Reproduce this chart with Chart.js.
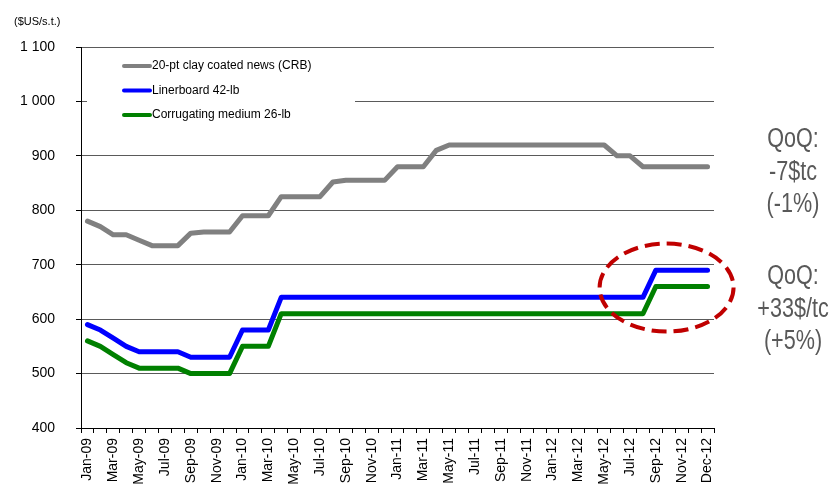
<!DOCTYPE html>
<html>
<head>
<meta charset="utf-8">
<script src="https://cdn.jsdelivr.net/npm/chart.js@4.4.1/dist/chart.umd.min.js"></script>
<style>
  body { margin: 0; background: #fff; }
</style>
</head>
<body>
<canvas id="price-chart" width="833" height="485"></canvas>
<script>
// labels shown on the x axis (every other month)
var tickLabels = ['Jan-09', 'Mar-09', 'May-09', 'Jul-09', 'Sep-09', 'Nov-09',
                  'Jan-10', 'Mar-10', 'May-10', 'Jul-10', 'Sep-10', 'Nov-10',
                  'Jan-11', 'Mar-11', 'May-11', 'Jul-11', 'Sep-11', 'Nov-11',
                  'Jan-12', 'Mar-12', 'May-12', 'Jul-12', 'Sep-12', 'Nov-12', 'Dec-12'];

var seriesNames = ['20-pt clay coated news (CRB)', 'Linerboard 42-lb', 'Corrugating medium 26-lb'];
var seriesColors = ['#808080', '#0000ff', '#008000'];

// $US/s.t., monthly
var crbValues = [780, 770, 755, 755, 745, 735, 735, 735, 758, 760, 760, 760,
                 790, 790, 790, 825, 825, 825, 825, 852, 855, 855, 855, 855,
                 880, 880, 880, 910, 920, 920, 920, 920, 920, 920, 920, 920,
                 920, 920, 920, 920, 920, 900, 900, 880, 880, 880, 880, 880, 880];
var linerboardValues = [590, 580, 565, 550, 540, 540, 540, 540, 530, 530, 530, 530,
                        580, 580, 580, 640, 640, 640, 640, 640, 640, 640, 640, 640,
                        640, 640, 640, 640, 640, 640, 640, 640, 640, 640, 640, 640,
                        640, 640, 640, 640, 640, 640, 640, 640, 690, 690, 690, 690, 690];
var mediumValues = [560, 550, 535, 520, 510, 510, 510, 510, 500, 500, 500, 500,
                    550, 550, 550, 610, 610, 610, 610, 610, 610, 610, 610, 610,
                    610, 610, 610, 610, 610, 610, 610, 610, 610, 610, 610, 610,
                    610, 610, 610, 610, 610, 610, 610, 610, 660, 660, 660, 660, 660];

var unitLabel = '($US/s.t.)';
var qoqNotes = [['QoQ:', '-7$tc', '(-1%)'], ['QoQ:', '+33$/tc', '(+5%)']];

// one category per month, only every other one gets a label
var categories = [];
tickLabels.forEach(function(t, i) {
    categories.push(t);
    if (i < tickLabels.length - 1) categories.push('');
});

var seriesValues = [crbValues, linerboardValues, mediumValues];

var overlayPlugin = {
    id: 'overlay',
    afterDatasetsDraw: function(chart) {
        var ctx = chart.ctx;
        var xs = chart.scales.x, ys = chart.scales.y;
        ctx.save();

        // legend inside the plot
        ctx.fillStyle = '#fff';
        ctx.fillRect(87, 54, 268, 72);
        chart.data.datasets.forEach(function(ds, i) {
            var y = 66 + i * 24.5;
            ctx.strokeStyle = ds.borderColor;
            ctx.lineWidth = 4;
            ctx.lineCap = 'round';
            ctx.beginPath();
            ctx.moveTo(124, y);
            ctx.lineTo(150, y);
            ctx.stroke();
            ctx.fillStyle = '#000';
            ctx.font = '12px "Liberation Sans", Arial, sans-serif';
            ctx.textBaseline = 'middle';
            ctx.textAlign = 'left';
            ctx.fillText(ds.label, 152, y);
        });

        // red dashed ring round the last step
        var cx = xs.getPixelForValue(44.83);
        var cy = ys.getPixelForValue(658);
        ctx.strokeStyle = '#c00000';
        ctx.lineWidth = 4;
        ctx.lineCap = 'butt';
        ctx.setLineDash([15, 7]);
        ctx.beginPath();
        ctx.ellipse(cx, cy, 67, 44, 0, 0, Math.PI * 2);
        ctx.stroke();
        ctx.setLineDash([]);

        // unit
        ctx.fillStyle = '#000';
        ctx.font = '11px "Liberation Sans", Arial, sans-serif';
        ctx.textAlign = 'left';
        ctx.fillText(unitLabel, 14, 22);

        // QoQ notes on the right
        var tops = [140, 277];
        ctx.fillStyle = '#595959';
        ctx.font = '27px "Liberation Sans", Arial, sans-serif';
        ctx.textAlign = 'center';
        qoqNotes.forEach(function(lines, k) {
            lines.forEach(function(txt, j) {
                ctx.save();
                ctx.translate(793, tops[k] + j * 32.5);
                ctx.scale(0.8, 1);
                ctx.fillText(txt, 0, 0);
                ctx.restore();
            });
        });
        ctx.restore();
    }
};

var chart = new Chart(document.getElementById('price-chart'), {
    type: 'line',
    data: {
        labels: categories,
        datasets: seriesNames.map(function(name, i) {
            return {
                label: name,
                data: seriesValues[i],
                borderColor: seriesColors[i],
                backgroundColor: seriesColors[i],
                borderWidth: 5,
                borderCapStyle: 'round',
                borderJoinStyle: 'round',
                pointRadius: 0,
                tension: 0,
                fill: false
            };
        })
    },
    options: {
        responsive: false,
        animation: false,
        layout: { padding: { top: 47, right: 119, left: 0, bottom: 0 } },
        plugins: {
            legend: { display: false },
            tooltip: { enabled: false }
        },
        scales: {
            x: {
                offset: true,
                border: { color: '#000', width: 1 },
                grid: {
                    offset: true,
                    drawOnChartArea: false,
                    drawTicks: true,
                    tickLength: 5,
                    tickColor: '#000'
                },
                ticks: {
                    autoSkip: false,
                    minRotation: 90,
                    maxRotation: 90,
                    padding: 5,
                    color: '#000',
                    font: { family: '"Liberation Sans", Arial, sans-serif', size: 14 }
                },
                afterFit: function(scale) { scale.height = 57; }
            },
            y: {
                min: 400,
                max: 1100,
                border: { color: '#000', width: 1 },
                grid: {
                    color: '#5a5a5a',
                    tickColor: '#000',
                    tickLength: 5
                },
                ticks: {
                    stepSize: 100,
                    padding: 21,
                    color: '#000',
                    font: { family: '"Liberation Sans", Arial, sans-serif', size: 14 },
                    callback: function(v) {
                        return String(v).replace(/\B(?=(\d{3})+(?!\d))/g, ' ');
                    }
                },
                afterFit: function(scale) { scale.width = 81; }
            }
        }
    },
    plugins: [overlayPlugin]
});
</script>
</body>
</html>
